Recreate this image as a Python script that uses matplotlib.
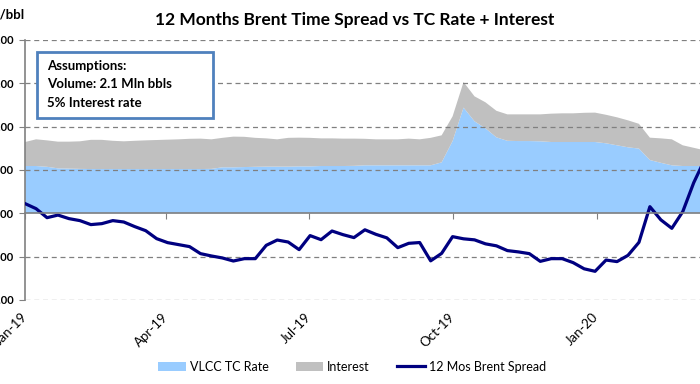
import matplotlib
matplotlib.use("Agg")
import matplotlib.pyplot as plt
import matplotlib.dates as mdates
from matplotlib.patches import Rectangle, Patch
from matplotlib.lines import Line2D
import pandas as pd

plt.rcParams['font.family'] = ['Lato', 'DejaVu Sans']

# weekly observations
dates = pd.date_range('2019-01-01', periods=63, freq='7D')

vlcc_tc_rate = [5.46, 5.46, 5.37, 5.19, 5.16, 5.13, 5.11, 5.11, 5.11, 5.11,
                5.11, 5.11, 5.11, 5.11, 5.11, 5.11, 5.11, 5.13, 5.31, 5.31,
                5.34, 5.37, 5.39, 5.39, 5.39, 5.42, 5.42, 5.46, 5.46, 5.46,
                5.48, 5.54, 5.54, 5.54, 5.54, 5.54, 5.54, 5.54, 5.88, 8.34,
                12.20, 10.62, 9.81, 8.77, 8.37, 8.34, 8.34, 8.31, 8.23, 8.23,
                8.23, 8.23, 8.23, 8.08, 7.85, 7.62, 7.47, 6.15, 5.83, 5.54,
                5.46, 5.46, 5.46]

interest = [2.77, 3.08, 3.05, 3.08, 3.11, 3.18, 3.37, 3.37, 3.26, 3.20,
            3.26, 3.31, 3.35, 3.39, 3.43, 3.49, 3.51, 3.41, 3.40, 3.54,
            3.49, 3.34, 3.26, 3.15, 3.32, 3.31, 3.29, 3.19, 3.19, 3.16,
            3.14, 3.06, 3.00, 3.00, 3.00, 3.08, 3.00, 3.17, 3.12, 2.85,
            2.95, 2.88, 3.00, 3.06, 3.05, 3.08, 3.08, 3.11, 3.27, 3.31,
            3.31, 3.37, 3.39, 3.29, 3.23, 3.11, 2.86, 2.58, 2.82, 3.00,
            2.39, 2.10, 1.81]

brent_spread = [1.12, 0.54, -0.50, -0.20, -0.61, -0.84, -1.30, -1.19, -0.84, -1.00,
                -1.53, -2.00, -2.92, -3.38, -3.61, -3.84, -4.65, -4.92, -5.15, -5.50,
                -5.23, -5.23, -3.69, -3.08, -3.31, -4.19, -2.57, -3.04, -2.04, -2.46,
                -2.80, -1.90, -2.42, -2.83, -3.96, -3.46, -3.37, -5.48, -4.62, -2.69,
                -2.94, -3.06, -3.52, -3.75, -4.30, -4.45, -4.65, -5.54, -5.23, -5.23,
                -5.69, -6.40, -6.69, -5.39, -5.57, -4.85, -3.35, 0.77, -0.75, -1.73,
                0.20, 3.54, 6.20]

y_ticks = [-10, -5, 0, 5, 10, 15, 20]
x_ticks = ['2019-01-01', '2019-04-01', '2019-07-01', '2019-10-01', '2020-01-01']

title = '12 Months Brent Time Spread vs TC Rate + Interest'
series_names = ['VLCC TC Rate', 'Interest', '12 Mos Brent Spread']
box_lines = ['Assumptions:', 'Volume: 2.1 Mln bbls', '5% Interest rate']

W, H = 700, 384
fig = plt.figure(figsize=(W / 100, H / 100), dpi=100)
ax = fig.add_axes([25.1 / W, (H - 300) / H, 1 - 25.1 / W, 260 / H])

blue = '#99CCFF'
grey = '#C0C0C0'
navy = '#000080'
axis_grey = '#808080'

ax.stackplot(dates, vlcc_tc_rate, interest, colors=[blue, grey], linewidth=0)
ax.plot(dates, brent_spread, color=navy, lw=2.3, solid_joinstyle='round', zorder=4)

ax.set_ylim(-10, 20)
ax.set_xlim(pd.Timestamp('2019-01-01'), pd.Timestamp('2020-03-07'))
ax.set_yticks(y_ticks)
ax.set_yticklabels([f'{v:.2f}' for v in y_ticks], fontweight='bold', fontsize=8)
for v in y_ticks:
    if v != 0:
        ax.axhline(v, color=axis_grey, lw=0.9, ls=(0, (4, 3)), zorder=1)

for s in ['top', 'right']:
    ax.spines[s].set_visible(False)
ax.spines['left'].set_color(axis_grey)
ax.spines['left'].set_linewidth(1.2)
ax.spines['bottom'].set_position(('data', 0))
ax.spines['bottom'].set_color(axis_grey)
ax.spines['bottom'].set_linewidth(1.2)
ax.spines['bottom'].set_zorder(5)
ax.tick_params(axis='y', direction='out', length=4, color=axis_grey, pad=4)

xt = [pd.Timestamp(t) for t in x_ticks]
ax.set_xticks(xt)
ax.tick_params(axis='x', direction='out', length=4, color=axis_grey, labelbottom=False)

sec = ax.secondary_xaxis(0)
sec.set_xticks(xt)
sec.set_xticklabels([t.strftime('%b-%y') for t in xt], rotation=45, ha='right',
                    va='center', rotation_mode='anchor', fontsize=9.5)
sec.tick_params(length=0, pad=11)
sec.spines['bottom'].set_visible(False)

fig.text(355 / W, 1 - 20 / H, title, ha='center', va='center', fontsize=12.5, fontweight='bold')
fig.text(25 / W, 1 - 15 / H, '$/bbl', ha='right', va='center', fontsize=9.5, fontweight='bold')

rect = Rectangle((37 / W, 1 - 118 / H), (213 - 37) / W, (118 - 52) / H,
                 transform=fig.transFigure, facecolor='white', edgecolor='#4F81BD',
                 linewidth=2, zorder=10)
fig.add_artist(rect)
for i, line in enumerate(box_lines):
    fig.text(47 / W, 1 - (66 + i * 18.5) / H, line, ha='left', va='center', fontsize=9.5,
             fontweight='bold', zorder=11)

handles = [Patch(facecolor=blue, edgecolor='none'),
           Patch(facecolor=grey, edgecolor='none'),
           Line2D([0], [0], color=navy, lw=2.3)]
fig.legend(handles, series_names, loc='center', bbox_to_anchor=(352 / W, 1 - 367 / H),
           ncol=3, frameon=False, fontsize=9, handlelength=2.2, handleheight=0.8,
           columnspacing=2.2, handletextpad=0.3)

fig.savefig('out.png', dpi=100)
